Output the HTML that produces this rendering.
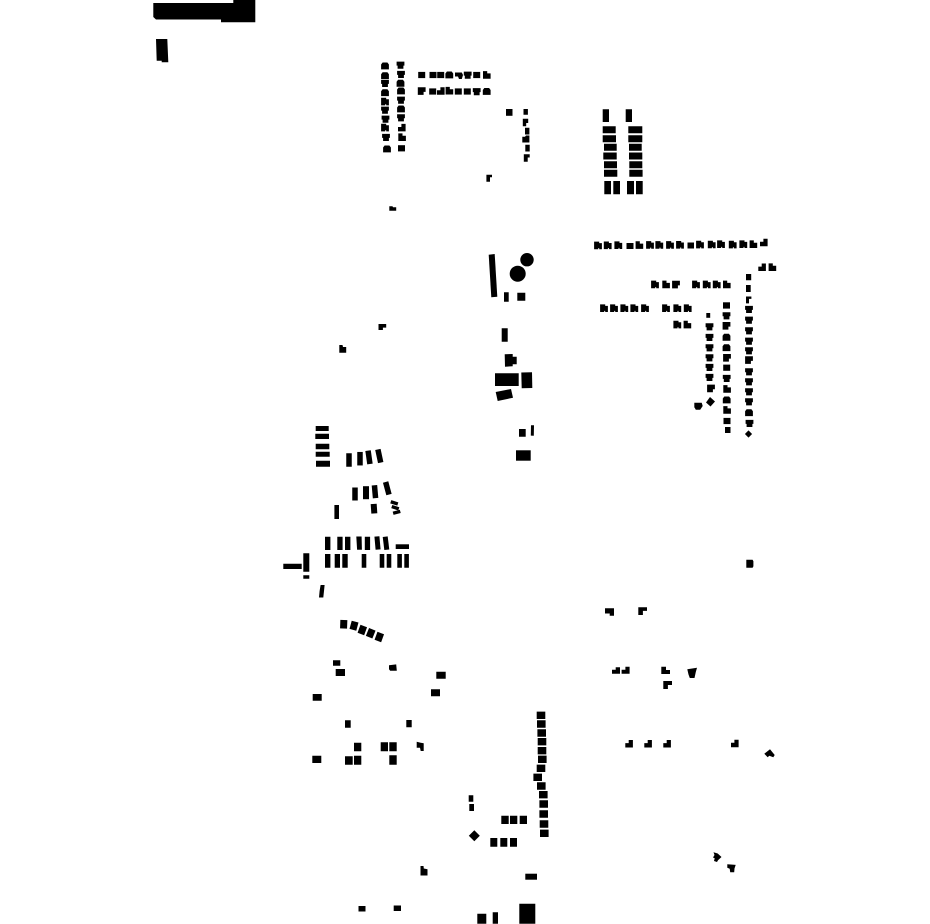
<!DOCTYPE html>
<html><head><meta charset="utf-8"><title>Figure-ground map</title>
<style>html,body{margin:0;padding:0;background:#fff}svg{display:block}</style></head>
<body>
<svg width="930" height="924" viewBox="0 0 930 924" xmlns="http://www.w3.org/2000/svg" fill="#000">
<defs>
<path id="s" d="M-3.5-3.1h7v6.2h-7z"/>
<path id="t" d="M-3.9-3.4h7.8v4h-1v3.1h-5.8v-3.1h-1z"/>
<path id="u" d="M-2.4-3.5h4.8l1.5 2v4.9h-7.8v-4.9z"/>
<path id="f" d="M-3.9-3.9h5.1v1.5h2.7v6.1h-2.7v-1.1h-1v1.1h-4.1z"/>
<path id="g" d="M-3.9-3.7h7.8v4.6h-2v3h-5.8z"/>
<path id="h" d="M-3.7-3.9h4.2v2.3h3.4v5.3h-7.6z"/>
<path id="k" d="M-.6-3.8h4.2v7.5h-7.6v-4.4h3.4z"/>
</defs>

<!-- top-left -->
<path d="M153.3 3H233.3V0H255.3V22.3H221V19.5H156L153.3 17z"/>
<path d="M156 39H167.3L168.3 62.3H161.7V60.7H156.7z"/>

<!-- top-centre columns -->
<use href="#u" x="385" y="66"/><use href="#u" x="385" y="75.7"/><use href="#t" x="385" y="83.3"/><use href="#u" x="385" y="92.7"/><use href="#f" x="385" y="101.7"/><use href="#t" x="385" y="110"/><use href="#t" x="385.5" y="119"/><use href="#f" x="385" y="127.7"/><use href="#t" x="386" y="137.3"/><use href="#u" x="387" y="149"/>
<use href="#t" x="400.5" y="65"/><use href="#t" x="401" y="74.3"/><use href="#u" x="400.5" y="83.3"/><use href="#u" x="401" y="91"/><use href="#t" x="401" y="100"/><use href="#u" x="401" y="109"/><use href="#t" x="401" y="117.7"/><use href="#k" x="402" y="127.7"/><use href="#h" x="402" y="137.3"/><use href="#s" x="401.5" y="148.3"/>

<!-- top-centre rows -->
<use href="#s" x="421.7" y="75"/><use href="#s" x="433" y="75"/><use href="#s" x="440.7" y="75"/><use href="#u" x="449.3" y="75"/><path d="M455 72.5h6.8l1.2 2.5-1.2 4h-2.8l-1-2.5h-3z"/><use href="#t" x="467.7" y="75"/><use href="#s" x="476.7" y="75"/><use href="#h" x="486.7" y="75"/>
<use href="#g" x="421.7" y="91"/><use href="#s" x="432.7" y="91.5"/><use href="#k" x="441" y="91"/><use href="#h" x="449.3" y="90.8"/><use href="#s" x="458.3" y="91.5"/><use href="#s" x="467.3" y="91.5"/><use href="#t" x="476.7" y="91.5"/><use href="#u" x="486.7" y="91.5"/>

<path d="M506 109h6.5v6.8H506z"/>
<path d="M523.5 109h4.4v5.8h-4.4zM522.8 118.7h5.4v4.3h-2v3.3h-3.4zM525 127.7h4.4v6.8H525zM522.3 136.7h2.7l1-1.2h3.4v7h-7.1zM525.3 144.7h4.4v6.8h-4.4zM523.8 154.2h5.9v3.3h-2v4.2h-3.9z"/>
<path d="M486.4 174.8h5.6v2.4h-2v4.5h-3.6z"/>
<path d="M389.3 206.2h3.2l.5 1h3.2v3.5h-6.9z"/>

<!-- top-right block -->
<path d="M602.7 109.3h6.3v12.7h-6.3zM625.7 109.3h6.3v12.7h-6.3z"/>
<path d="M602.7 126.3h13v7h-13zM602.7 135.2h13.3v7h-13.3zM604 143.8h12.7v7H604zM603.3 152.5h13.4v7h-13.4zM604 161.2h13v7h-13zM604 169.8h13.3v7H604z"/>
<path d="M628.3 126.3h14v7h-14zM628.3 135.2h14v7h-14zM629 143.8h12.7v7H629zM629 152.5h13.3v7H629zM629.3 161.2h13v7h-13zM629.3 169.8h13.3v7h-13.3z"/>
<path d="M604.3 181h6.7v13.3h-6.7zM613.3 181h6.7v13.3h-6.7zM627 181h7v13.3h-7zM636 181h6.7v13.3H636z"/>

<!-- long top-right row -->
<use href="#f" x="598" y="245.5"/><use href="#f" x="607.7" y="245.4"/><use href="#f" x="618.3" y="245.3"/><path d="M626.5 243h7v6h-7z"/><use href="#h" x="639.3" y="245.2"/><use href="#f" x="650" y="245"/><use href="#f" x="659.3" y="245"/><use href="#f" x="670" y="245"/><use href="#f" x="680" y="244.9"/><path d="M687.5 242.5h6.5v6h-6.5z"/><use href="#f" x="700" y="244.7"/><use href="#f" x="711.7" y="244.6"/><use href="#f" x="721" y="244.3"/><use href="#f" x="732.7" y="244.7"/><use href="#f" x="743.3" y="244.3"/><use href="#h" x="753.3" y="244.3"/><use href="#k" x="764" y="242.5"/>
<use href="#k" x="762.3" y="267.3"/><use href="#h" x="772.3" y="267.3"/>

<use href="#f" x="655" y="284.5"/><use href="#h" x="666" y="284.5"/><use href="#g" x="676" y="284.5"/><use href="#f" x="696" y="284.5"/><use href="#f" x="706.7" y="284.5"/><use href="#f" x="716.7" y="284.5"/><use href="#h" x="726.7" y="284.5"/>
<use href="#f" x="604" y="308.3"/><use href="#f" x="614" y="308.3"/><use href="#f" x="624.3" y="308.3"/><use href="#f" x="634.3" y="308.3"/><use href="#f" x="645" y="308.3"/><use href="#f" x="666" y="308.3"/><use href="#f" x="677.3" y="308.3"/><use href="#f" x="687.7" y="308.3"/>
<use href="#f" x="677.3" y="324.7"/><use href="#h" x="687.3" y="324.7"/>

<!-- column 1 -->
<path d="M706.3 313h3.9v4.8h-3.9z"/><use href="#t" x="709.5" y="326.7"/><use href="#t" x="709.5" y="337.3"/><use href="#t" x="709.5" y="347.7"/><use href="#t" x="709.5" y="357.7"/><use href="#t" x="709.5" y="367.3"/><use href="#t" x="709.5" y="377.3"/><use href="#g" x="711" y="388.3"/>
<path d="M710 397l5 4.5-4.5 5-4.5-4z"/><path d="M694.3 402.7h7.4l1 3.3-2.5 3.8h-4.4l-1.5-2.7z"/>
<!-- column 2 -->
<path d="M723 302.3h7v6.3h-7z"/><use href="#t" x="726.5" y="315.7"/><use href="#g" x="726.5" y="325.7"/><use href="#u" x="726.5" y="337.3"/><use href="#u" x="726.5" y="347.7"/><use href="#g" x="727" y="357.7"/><use href="#s" x="726.7" y="367.7"/><use href="#t" x="726.7" y="378.3"/><use href="#h" x="727" y="389"/><use href="#u" x="726.7" y="400"/><use href="#h" x="727" y="410"/><use href="#s" x="727" y="421"/><path d="M725 427h5.5v6h-5.5z"/>
<!-- column 3 -->
<path d="M746 274h5.2v6.2H746zM746 285h4.7v7H746zM746 296.5h5.4v2.4h-2.4v4.5h-3z"/>
<use href="#t" x="749" y="309.3"/><use href="#t" x="749" y="320"/><use href="#t" x="749" y="330.7"/><use href="#t" x="749" y="341"/><use href="#t" x="749" y="350.7"/><use href="#g" x="749" y="360"/><use href="#t" x="749" y="371.7"/><use href="#t" x="749" y="381.7"/><use href="#t" x="749" y="391.7"/><use href="#t" x="749" y="401.7"/><use href="#u" x="749" y="412.7"/><use href="#t" x="749.5" y="423.3"/><path d="M748.5 430.4l3.6 3.6-3.6 3.6-3.6-3.6z"/>

<!-- centre block -->
<path d="M488.7 254.7L494.7 254L497.3 296.7L491.3 297.3z"/>
<circle cx="527" cy="259.7" r="6.7"/><circle cx="517.7" cy="273.7" r="8"/>
<path d="M504 292.3h4.7v9.4H504zM517.3 292.7h8v8h-8zM501.7 328.3h6v13.4h-6z"/>
<path d="M504.7 354.3L512.7 354V356.7H516.7V364.3H512.7V366.3L505 366.7z"/>
<path d="M495 373.3h23.7V386H495z"/>
<path d="M521.3 372.5L532 372.3L532.3 388L521.7 388.3z"/>
<path d="M495.7 392L511 389L513 397.7L497.7 401z"/>
<path d="M519 429h6.7v7.7H519zM531 425.2l3 .1-.2 10.4-3-.1z"/>
<path d="M516 450.3h14.7v10.4H516z"/>

<!-- west stack -->
<path d="M315.7 426h13v5h-13zM315.3 433.7h13.7V439h-13.7zM315.7 443.7h13.6v5.6h-13.6zM315.7 451.7h14v5h-14zM316 460.7h14v6h-14z"/>
<rect x="-2.75" y="-6.75" width="5.5" height="13.5" transform="translate(349 460)"/>
<rect x="-2.75" y="-6.75" width="5.5" height="13.5" transform="translate(360 458.7)"/>
<rect x="-2.75" y="-6.75" width="5.5" height="13.5" transform="translate(369 457.3) rotate(-8)"/>
<rect x="-2.75" y="-6.75" width="5.5" height="13.5" transform="translate(379.3 456) rotate(-12)"/>
<rect x="-2.75" y="-6.5" width="5.5" height="13" transform="translate(355 494)"/>
<rect x="-3" y="-6.5" width="6" height="13" transform="translate(366 492.7)"/>
<rect x="-2.75" y="-6.5" width="5.5" height="13" transform="translate(375 491.7) rotate(-5)"/>
<rect x="-2.75" y="-6.5" width="5.5" height="13" transform="translate(387.3 488.3) rotate(-15)"/>
<path d="M334.4 505h4.6v14h-4.6z"/>
<rect x="-3" y="-4.75" width="6" height="9.5" transform="translate(374 508.7) rotate(-4)"/>
<rect x="-3.7" y="-1.7" width="7.4" height="3.4" transform="translate(394.3 502.9) rotate(18)"/>
<rect x="-3.7" y="-1.7" width="7.4" height="3.4" transform="translate(395.3 507.7) rotate(18)"/>
<rect x="-3.7" y="-1.7" width="7.4" height="3.4" transform="translate(396.7 512.3) rotate(-15)"/>
<path d="M325 536.7h5.4V550H325zM337.3 536.7h5.3V550h-5.3zM345 536.7h5.4V550H345z"/>
<path d="M356.3 536.5h5.3l.3 13.2h-4.8zM364.8 536.7h5.3V550h-5.3z"/>
<rect x="-2.5" y="-6.6" width="5" height="13.2" transform="translate(377.5 543) rotate(-5)"/>
<rect x="-2.5" y="-6.6" width="5" height="13.2" transform="translate(386 543.2) rotate(-7)"/>
<path d="M395.7 544.3H409V549H395.7z"/>
<path d="M325 554h5.4v13.7H325zM334.7 554h5.3v13.7h-5.3zM342.3 554h5.4v13.7h-5.4zM361.7 554h4.6v13.7h-4.6zM379.7 554h4.6v13.7h-4.6zM386.7 554h4.6v13.7h-4.6zM397.3 554h4.6v13.7h-4.6zM404.3 554h4.6v13.7h-4.6z"/>
<path d="M283.3 563.7h18.4v5.3h-18.4zM303.3 553.3h6v18.4h-6zM303.3 575.3h6v3.4h-6z"/>
<path d="M320.6 585H324.6L324 591L323.3 597.5H319L319.6 591z"/>

<!-- south-west cluster -->
<rect x="-3.5" y="-4.25" width="7" height="8.5" transform="translate(343.7 624.3) rotate(2)"/>
<rect x="-3.5" y="-4.25" width="7" height="8.5" transform="translate(354 625.7) rotate(15)"/>
<rect x="-3.5" y="-4.25" width="7" height="8.5" transform="translate(362.3 630) rotate(20)"/>
<rect x="-3.5" y="-4.25" width="7" height="8.5" transform="translate(370.7 633.3) rotate(22)"/>
<rect x="-3.5" y="-4.25" width="7" height="8.5" transform="translate(379.3 637) rotate(20)"/>
<path d="M333 660.3h7.3v5.4H333zM335.7 669h9.3v7h-9.3zM389 665.3l7.2-.9.6 6.3h-6.6l-1.2-1.4zM436.3 671.7h9.4v7h-9.4zM431 689.3h9v7h-9zM312.7 694h9v6.7h-9zM345 720.3h5.7v7.4H345zM406.3 720h5.4v7.3h-5.4z"/>
<path d="M354 742.7h7.3v8.6H354zM380.7 742.3h7.3v9h-7.3zM389.3 742.3h7.4v9h-7.4z"/>
<path d="M416.7 741.7L420.7 742.7L423.7 743.3V751H420.7L420 747.7H416.7z"/>
<path d="M312.3 755.7h9v7.3h-9zM345 756.3h7.7v8.4H345zM354 755.7h7.3v9H354zM389.3 755.3h7.4v9.4h-7.4z"/>

<!-- south-centre column -->
<path d="M536.7 711.6h8.6v7.4h-8.6zM537 720.3h8.6v7.4H537zM537.4 729.3h8.6v7.4h-8.6zM537.7 738h8.6v7.4h-8.6zM537.7 747h8.6v7.4h-8.6zM538 755.6h8.6v7.4H538zM536.7 764.6h8.6v7.4h-8.6zM533.4 773.6h8.6v7.4h-8.6zM537 782.3h8.6v7.4H537zM539 791h8.6v7.4H539zM539.4 800.3h8.6v7.4h-8.6zM539.4 810.3h8.6v7.4h-8.6zM539.7 820.3h8.6v7.4h-8.6zM540 829.6h8.6v7.4H540z"/>
<path d="M468.7 795.3h4.6v6.4h-4.6zM469.3 804H474v7h-4.7z"/>
<path d="M501.3 815.7h7.4v8.3h-7.4zM510 815.7h7.3v8.3H510zM519.7 815.7h7.3v8.3h-7.3z"/>
<path d="M474.3 830.2l5.5 5.5-5.5 5.5-5.5-5.5z"/>
<path d="M490.3 838h7v8.7h-7zM500.3 838h7v8.7h-7zM510 838h7v8.7h-7z"/>
<path d="M525.3 873.7H537v6h-11.7z"/>
<path d="M477.3 913.7h9v10h-9zM492.7 912.3h5.3v11.4h-5.3zM519.3 903.7h16v20h-16z"/>

<!-- bottom small -->
<path d="M420.5 866h3l.3 2.5 3.7.7v6.3h-7z"/>
<path d="M358.5 906h7v5.5h-7zM393.7 905.5h7.3v5.5h-7.3z"/>
<path d="M713.5 852.3l4.2 1.2 3.8 3.5-3.5 3.2-1 1.8-3-1 .7-2.7-1.7-.8 1.5-2.5z"/>
<path d="M727.3 864.2l8.4.7-1.2 3.6-.3 3.7h-4l-.5-3.5-2.4-1z"/>
<path d="M339.3 345h3.2l.5 2h3.2v5.8h-6.9z"/>
<path d="M378.5 324h7.7v3.6h-3.3v2.4h-4.4z"/>

<!-- south-east markers -->
<path d="M746.3 559.7h6.3l.8 1.5v5l-.8 1.5h-6.3z"/>
<path d="M605 608.3h9v7.4h-4.3v-2.2H605z"/>
<path d="M638.3 607.3h8.7v3.6h-4.1v4.1h-4.6z"/>
<path d="M615.7 667.3h4.3v6.4h-8v-3.9h3.7z"/>
<path d="M625.4 666.7h4.2v7h-8v-3.9h3.8z"/>
<path d="M661.3 666.7h4.7V670h4v4h-8.7z"/>
<path d="M687.3 669.3L697 667.8L695.8 672L694.5 678H689.8L688.5 674.5z"/>
<path d="M663.3 681h8.7v4h-4.1v4h-4.6z"/>
<use href="#k" x="629.3" y="743.8"/><use href="#k" x="648.3" y="743.8"/><use href="#k" x="667.3" y="743.8"/><use href="#k" x="735" y="743.5"/>
<path d="M764.3 753.7L770 749.3L774.7 755L773.3 757.3L769.3 755.7L767.7 757.3z"/>
</svg>
</body></html>
